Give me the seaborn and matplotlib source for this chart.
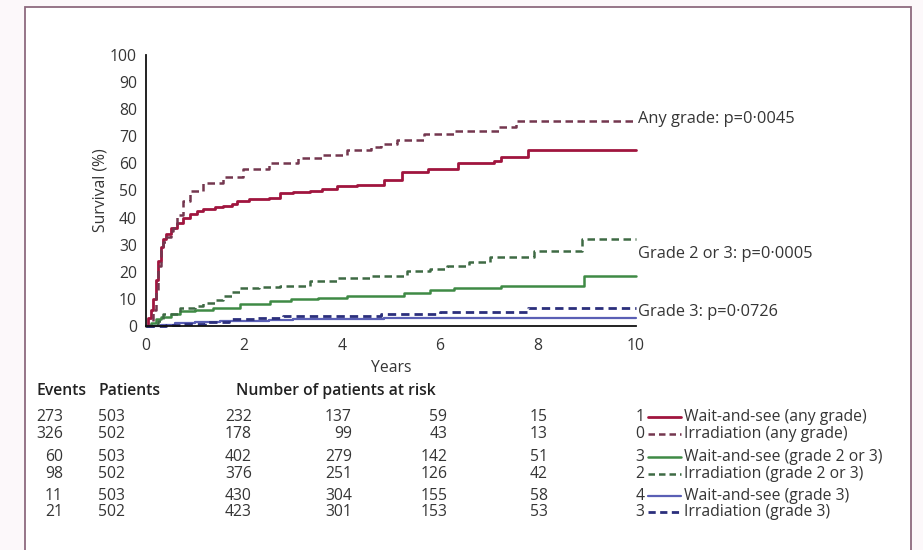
import numpy as np
import pandas as pd
import matplotlib
matplotlib.use("Agg")
import matplotlib.pyplot as plt
from matplotlib.lines import Line2D
from matplotlib.patches import Rectangle
import matplotlib.transforms as mtransforms
import seaborn as sns

# ---- survival step curves (years, %) ----
ws_any_t = [0, 0.05, 0.1, 0.15, 0.2, 0.25, 0.3, 0.35, 0.4, 0.5, 0.63, 0.75, 0.9, 1.05, 1.17, 1.4, 1.57,
            1.75, 1.86, 2.1, 2.5, 2.74, 3.0, 3.35, 3.6, 3.9, 4.3, 4.58, 4.85, 5.23, 5.75, 6.36, 7.1, 7.24, 7.8, 10]
ws_any_v = [0, 3, 6, 10, 17, 24, 29, 32, 34, 36, 38, 40, 41.5, 42.5, 43.3, 44, 44.4,
            45, 46.3, 47, 47.4, 48.9, 49.3, 50, 50.7, 51.5, 52, 52.2, 54, 56.7, 58, 60, 61, 62.5, 64.8, 64.8]

ir_any_t = [0, 0.1, 0.15, 0.2, 0.25, 0.3, 0.35, 0.4, 0.5, 0.55, 0.63, 0.75, 0.9, 1.17, 1.57, 1.98, 2.5,
            3.1, 3.6, 4.1, 4.6, 4.8, 5.13, 5.67, 6.3, 7.2, 7.55, 10]
ir_any_v = [0, 2, 6, 13, 22, 28, 31, 33, 35, 36, 41, 46, 50, 52.6, 55, 57.8, 60,
            62, 63, 64.8, 66, 67.3, 68.5, 71, 72, 73.5, 75.5, 75.5]

ws_23_t = [0, 0.1, 0.2, 0.3, 0.5, 0.7, 1.0, 1.37, 1.92, 2.54, 2.95, 3.5, 4.1, 5.26, 5.8, 6.28, 7.24, 8.94, 10]
ws_23_v = [0, 1, 2.5, 3.5, 4.5, 5.5, 6, 6.7, 8, 9.3, 10, 10.5, 11, 12.3, 13.2, 14, 14.8, 18.5, 18.5]

ir_23_t = [0, 0.15, 0.25, 0.35, 0.7, 1.0, 1.17, 1.4, 1.57, 1.75, 1.92, 2.3, 2.74, 3.35, 3.9, 4.58, 5.33,
           5.8, 6.15, 6.6, 7.03, 7.91, 8.9, 10]
ir_23_v = [0, 0.5, 2, 4.4, 6.7, 7.5, 8.5, 9.5, 11, 12.5, 14, 14.3, 14.8, 16.7, 17.8, 18.5, 20.4,
           21.2, 22.2, 23.5, 25.3, 27.8, 32, 32]

ws_3_t = [0, 0.3, 0.6, 1.0, 1.5, 2.5, 3.0, 4.85, 10]
ws_3_v = [0, 0.4, 1.0, 1.3, 1.8, 2.2, 2.5, 2.9, 2.9]

ir_3_t = [0, 0.4, 0.7, 1.2, 1.7, 2.2, 2.8, 4.8, 6.0, 7.8, 10]
ir_3_v = [0, 0.4, 0.8, 1.5, 2.6, 3.0, 3.7, 4.6, 5.0, 6.5, 6.5]

# ---- table / legend content ----
events = [273, 326, 60, 98, 11, 21]
patients = [503, 502, 503, 502, 503, 502]
risk_years = [2, 4, 6, 8]
at_risk = [
    [232, 137, 59, 15],
    [178, 99, 43, 13],
    [402, 279, 142, 51],
    [376, 251, 126, 42],
    [430, 304, 155, 58],
    [423, 301, 153, 53],
]
legend_codes = ["1", "0", "3", "2", "4", "3"]
group_labels = [
    "Wait-and-see (any grade)",
    "Irradiation (any grade)",
    "Wait-and-see (grade 2 or 3)",
    "Irradiation (grade 2 or 3)",
    "Wait-and-see (grade 3)",
    "Irradiation (grade 3)",
]
p_labels = ["Any grade: p=0\u00b70045", "Grade 2 or 3: p=0\u00b70005", "Grade 3: p=0\u00b70726"]
p_label_y = [76.2, 26.7, 5.3]
x_ticks = [0, 2, 4, 6, 8, 10]
y_ticks = list(range(0, 101, 10))

colors = ["#a0153e", "#74374f", "#3f8a45", "#3e6a44", "#5a5fb5", "#2b2f7c"]
styles = ["-", "--", "-", "--", "-", "--"]
widths = [2.0, 1.8, 1.8, 1.8, 1.6, 2.0]

series = [(ws_any_t, ws_any_v), (ir_any_t, ir_any_v), (ws_23_t, ws_23_v),
          (ir_23_t, ir_23_v), (ws_3_t, ws_3_v), (ir_3_t, ir_3_v)]

sns.set_theme(style="white")
plt.rcParams["font.family"] = ["Open Sans", "DejaVu Sans"]
text_col = "#353535"
fs = 11.3

W, H = 923, 550
fig = plt.figure(figsize=(W / 100, H / 100), dpi=100, facecolor="#fcf8fa")


def fx(px):
    return px / W


def fy(py):
    return 1 - py / H


# page frame
fig.add_artist(Rectangle((fx(25), fy(600)), fx(911) - fx(25), fy(7) - fy(600),
                         transform=fig.transFigure, facecolor="white",
                         edgecolor="#8e6a7e", linewidth=1.3, zorder=0))

ax = fig.add_axes([fx(146), fy(326), fx(636) - fx(146), fy(55) - fy(326)])
ax.set_facecolor("none")

for (t, v), c, ls, lw in zip(series, colors, styles, widths):
    df = pd.DataFrame({"Years": t, "Survival": v})
    sns.lineplot(data=df, x="Years", y="Survival", ax=ax, color=c,
                 linewidth=lw, drawstyle="steps-post", estimator=None, sort=False,
                 clip_on=False, legend=False)
    ax.lines[-1].set_linestyle(ls)
    if ls == "--":
        ax.lines[-1].set_dashes((3.0, 1.8))

ax.set_xlim(0, 10)
ax.set_ylim(0, 100)
ax.set_xticks(x_ticks)
ax.set_yticks(y_ticks)
for s in ["top", "right"]:
    ax.spines[s].set_visible(False)
for s in ["left", "bottom"]:
    ax.spines[s].set_color("#111111")
    ax.spines[s].set_linewidth(1.3)
ax.tick_params(axis="both", direction="out", width=1.3, color="#111111",
               labelsize=fs, labelcolor=text_col)
ax.tick_params(axis="x", length=7, pad=2)
ax.tick_params(axis="y", length=5.5, pad=1)
ax.set_xlabel("Years", fontsize=fs, color=text_col, labelpad=4)
ax.set_ylabel("Survival (%)", fontsize=fs, color=text_col, labelpad=1)

for lab, yv in zip(p_labels, p_label_y):
    ax.text(10.05, yv, lab, fontsize=11.8, color=text_col, va="center", ha="left", clip_on=False)

# ---- number-at-risk table ----
row_y = [417, 434, 457, 474, 496, 512]
hdr_kw = dict(fontsize=fs, color="#222222", fontweight="semibold", va="center")
fig.text(fx(37), fy(391), "Events", **hdr_kw)
fig.text(fx(98), fy(391), "Patients", **hdr_kw)
fig.text(fx(236), fy(391), "Number of patients at risk", **hdr_kw)

blend = mtransforms.blended_transform_factory(ax.transData, fig.transFigure)
risk_right = [2.16, 4.2, 6.15, 8.2]
for i, py in enumerate(row_y):
    fig.text(fx(63), fy(py), str(events[i]), fontsize=fs, color=text_col, ha="right", va="center")
    fig.text(fx(98), fy(py), str(patients[i]), fontsize=fs, color=text_col, ha="left", va="center")
    for xr, n in zip(risk_right, at_risk[i]):
        fig.text(xr, fy(py), str(n), transform=blend, fontsize=fs, color=text_col,
                 ha="right", va="center")
    fig.text(fx(640), fy(py), legend_codes[i], fontsize=fs, color=text_col, ha="center", va="center")
    ln = Line2D([fx(648), fx(681)], [fy(py), fy(py)], transform=fig.transFigure,
                color=colors[i], linewidth=widths[i], linestyle=styles[i])
    if styles[i] == "--":
        ln.set_dashes((2.6, 1.6))
    fig.add_artist(ln)
    fig.text(fx(684), fy(py), group_labels[i], fontsize=fs, color=text_col, ha="left", va="center")

fig.savefig("out.png", dpi=100, facecolor=fig.get_facecolor())
